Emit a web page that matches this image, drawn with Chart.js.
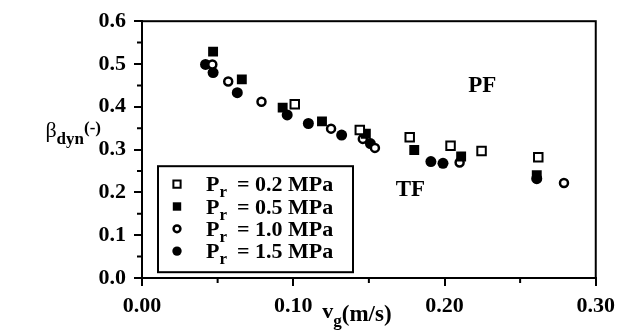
<!DOCTYPE html>
<html><head><meta charset="utf-8">
<script src="https://cdn.jsdelivr.net/npm/chart.js@4.4.0/dist/chart.umd.min.js"></script>
<style>html,body{margin:0;padding:0;background:#fff;}</style>
</head><body>
<canvas id="c" width="622" height="331"></canvas>
<script>
// ---- data ----
const seriesLabels = ['0.2', '0.5', '1.0', '1.5'];   // P_r in MPa
const p02x = [0.101, 0.144, 0.177, 0.204, 0.2245, 0.262];
const p02y = [0.406, 0.346, 0.329, 0.309, 0.297, 0.282];
const p05x = [0.047, 0.066, 0.093, 0.119, 0.148, 0.180, 0.211, 0.261];
const p05y = [0.529, 0.464, 0.398, 0.366, 0.337, 0.299, 0.284, 0.240];
const p10x = [0.0465, 0.057, 0.079, 0.125, 0.146, 0.154, 0.210, 0.279];
const p10y = [0.499, 0.459, 0.412, 0.349, 0.325, 0.304, 0.270, 0.222];
const p15x = [0.042, 0.047, 0.063, 0.096, 0.110, 0.132, 0.151, 0.191, 0.199, 0.261];
const p15y = [0.499, 0.480, 0.433, 0.381, 0.361, 0.334, 0.314, 0.272, 0.268, 0.232];
const xTickValues = [0.00, 0.10, 0.20, 0.30];
const yTickValues = [0.0, 0.1, 0.2, 0.3, 0.4, 0.5, 0.6];
const xMinor = [0.05, 0.15, 0.25];
const yMinor = [0.05, 0.15, 0.25, 0.35, 0.45, 0.55];
const regionLabels = ['PF', 'TF'];
const regionX = [0.225, 0.1775];
const regionY = [0.449, 0.206];

const pts = (xs, ys) => xs.map((x, i) => ({x: x, y: ys[i]}));
const FONT = '"Liberation Serif", "Times New Roman", serif';

const styles = [
  {pointStyle: 'rect', radius: 6, bg: '#fff', bw: 2},
  {pointStyle: 'rect', radius: 7, bg: '#000', bw: 0},
  {pointStyle: 'circle', radius: 4, bg: '#fff', bw: 2.5},
  {pointStyle: 'circle', radius: 5.5, bg: '#000', bw: 0}
];
const allData = [pts(p02x, p02y), pts(p05x, p05y), pts(p10x, p10y), pts(p15x, p15y)];

const datasets = allData.map((d, i) => ({
  label: 'Pr = ' + seriesLabels[i] + ' MPa',
  data: d,
  showLine: false,
  pointStyle: styles[i].pointStyle,
  pointRadius: styles[i].radius,
  pointBackgroundColor: styles[i].bg,
  pointBorderColor: '#000',
  pointBorderWidth: styles[i].bw
}));

const decor = {
  id: 'decor',
  afterDraw(chart) {
    const ctx = chart.ctx, ca = chart.chartArea;
    const xs = chart.scales.x, ys = chart.scales.y;
    ctx.save();
    ctx.strokeStyle = '#000'; ctx.fillStyle = '#000';
    // frame
    ctx.lineWidth = 2;
    ctx.strokeRect(ca.left, ca.top, ca.right - ca.left, ca.bottom - ca.top);
    // minor ticks
    ctx.beginPath();
    xMinor.forEach(v => { const px = xs.getPixelForValue(v); ctx.moveTo(px, ca.bottom); ctx.lineTo(px, ca.bottom + 5); });
    yMinor.forEach(v => { const py = ys.getPixelForValue(v); ctx.moveTo(ca.left, py); ctx.lineTo(ca.left - 5, py); });
    ctx.stroke();
    // region labels
    ctx.font = 'bold 23px ' + FONT;
    ctx.textAlign = 'center'; ctx.textBaseline = 'middle';
    regionLabels.forEach((t, i) => ctx.fillText(t, xs.getPixelForValue(regionX[i]), ys.getPixelForValue(regionY[i])));
    // legend box
    const lx = ca.left + 16, ly = ca.top + 145, lw = 195, lh = 106;
    ctx.fillStyle = '#fff';
    ctx.fillRect(lx, ly, lw, lh);
    ctx.lineWidth = 2;
    ctx.strokeRect(lx, ly, lw, lh);
    ctx.textAlign = 'left'; ctx.textBaseline = 'alphabetic';
    seriesLabels.forEach((lab, i) => {
      const cy = ly + 18 + i * 22.3;
      const st = styles[i];
      ctx.fillStyle = st.bg; ctx.strokeStyle = '#000'; ctx.lineWidth = st.bw;
      Chart.helpers.drawPoint(ctx, {pointStyle: st.pointStyle, radius: st.radius * 0.85, borderWidth: st.bw, rotation: 0}, lx + 19, cy);
      ctx.fillStyle = '#000';
      let x = lx + 48;
      const base = cy + 7;
      ctx.font = 'bold 22px ' + FONT;
      ctx.fillText('P', x, base); x += ctx.measureText('P').width;
      ctx.font = 'bold 17px ' + FONT;
      ctx.fillText('r', x, base + 6); x += ctx.measureText('r').width + 10;
      ctx.font = 'bold 22px ' + FONT;
      ctx.fillText('= ' + lab + ' MPa', x, base);
    });
    // y title (right end just left of the tick labels)
    ctx.fillStyle = '#000';
    const fB = '22px ' + FONT, fD = 'bold 17px ' + FONT, fM = 'bold 17px ' + FONT;
    ctx.font = fB; const wB = ctx.measureText('\u03B2').width;
    ctx.font = fD; const wD = ctx.measureText('dyn').width;
    ctx.font = fM; const wM = ctx.measureText('(-)').width;
    let tx = 101 - (wB + wD + wM);
    const tyb = ys.getPixelForValue(0.33);
    ctx.font = fB; ctx.fillText('\u03B2', tx, tyb); tx += wB;
    ctx.font = fD; ctx.fillText('dyn', tx, tyb + 7); tx += wD;
    ctx.font = fM; ctx.fillText('(-)', tx, tyb - 4);
    // x title
    let vx = xs.getPixelForValue(0.1) + 29; const vb = ca.bottom + 40;
    ctx.font = 'bold 22px ' + FONT;
    ctx.fillText('v', vx, vb); vx += ctx.measureText('v').width;
    ctx.font = 'bold 17px ' + FONT;
    ctx.fillText('g', vx, vb + 8); vx += ctx.measureText('g').width;
    ctx.font = 'bold 23px ' + FONT;
    ctx.fillText('(m/s)', vx, vb + 3);
    ctx.restore();
  }
};

new Chart(document.getElementById('c'), {
  type: 'scatter',
  data: {datasets: datasets},
  options: {
    responsive: false,
    animation: false,
    layout: {padding: {top: 20, right: 24, left: 0, bottom: 0}},
    plugins: {legend: {display: false}, tooltip: {enabled: false}},
    scales: {
      x: {
        type: 'linear', min: 0, max: 0.3,
        afterBuildTicks: s => { s.ticks = xTickValues.map(v => ({value: v})); },
        afterFit: s => { s.height = 53; },
        ticks: {callback: v => Number(v).toFixed(2), color: '#000', font: {family: FONT, size: 22, weight: 'bold'}, padding: 7, maxRotation: 0, autoSkip: false},
        grid: {drawOnChartArea: false, drawTicks: true, tickLength: 8, color: '#000', lineWidth: 2},
        border: {display: true, color: '#000', width: 2}
      },
      y: {
        type: 'linear', min: 0, max: 0.6,
        afterBuildTicks: s => { s.ticks = yTickValues.map(v => ({value: v})); },
        afterFit: s => { s.width = 142; },
        ticks: {callback: v => Number(v).toFixed(1), color: '#000', font: {family: FONT, size: 22, weight: 'bold'}, padding: 8, autoSkip: false},
        grid: {drawOnChartArea: false, drawTicks: true, tickLength: 8, color: '#000', lineWidth: 2},
        border: {display: true, color: '#000', width: 2}
      }
    }
  },
  plugins: [decor]
});
</script>
</body></html>
